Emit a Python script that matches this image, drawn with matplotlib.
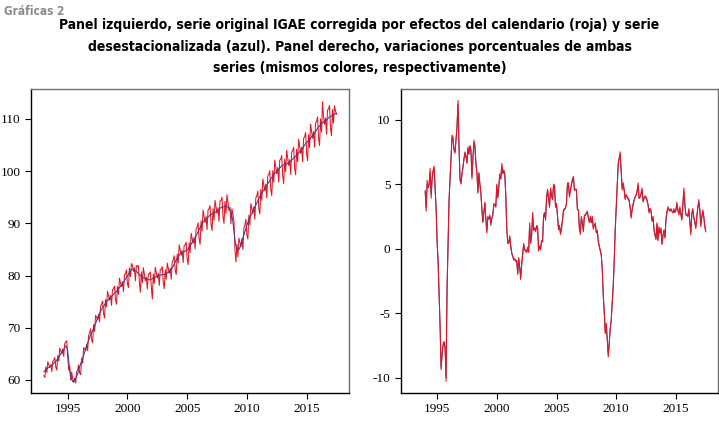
"""IGAE: serie corregida por calendario (roja) vs desestacionalizada (azul), niveles y variaciones."""

import matplotlib

matplotlib.use("Agg")
import matplotlib.pyplot as plt
import numpy as np

RED = "#e8141e"
BLUE = "#3c3c9c"

plt.rcParams["axes.unicode_minus"] = False

# ---- datos mensuales, ene-1993 a jul-2017 (niveles, indice) ----
LEVEL_START = 1993
level_sa = [  # desestacionalizada (azul)
    61.6, 61.8, 62.0, 62.1, 62.3, 62.4, 62.6, 62.7, 62.9, 63.0, 63.2, 63.4,
    63.6, 63.8, 64.1, 64.4, 64.7, 65.0, 65.3, 65.6, 65.9, 66.2, 66.5, 66.4,
    65.5, 63.8, 62.0, 60.8, 60.1, 59.7, 59.8, 60.0, 60.3, 60.7, 61.2, 61.8,
    62.5, 63.1, 63.6, 64.1, 64.7, 65.3, 65.9, 66.5, 67.1, 67.6, 68.1, 68.6,
    69.0, 69.4, 69.9, 70.3, 70.8, 71.3, 71.8, 72.3, 72.7, 73.1, 73.5, 73.8,
    74.1, 74.4, 74.7, 75.0, 75.2, 75.4, 75.6, 75.8, 76.0, 76.2, 76.4, 76.6,
    76.8, 77.0, 77.2, 77.5, 77.7, 77.9, 78.2, 78.4, 78.7, 79.0, 79.3, 79.6,
    79.9, 80.3, 80.6, 80.9, 81.1, 81.2, 81.2, 81.1, 80.9, 80.8, 80.6, 80.4,
    80.2, 80.0, 79.9, 79.7, 79.6, 79.5, 79.4, 79.3, 79.3, 79.2, 79.2, 79.2,
    79.3, 79.4, 79.5, 79.6, 79.7, 79.8, 79.9, 80.0, 80.0, 80.1, 80.1, 80.2,
    80.2, 80.2, 80.3, 80.4, 80.5, 80.6, 80.8, 81.0, 81.2, 81.5, 81.8, 82.2,
    82.6, 83.0, 83.3, 83.6, 83.9, 84.1, 84.3, 84.4, 84.5, 84.6, 84.7, 84.8,
    84.9, 85.1, 85.4, 85.7, 86.0, 86.3, 86.6, 86.9, 87.2, 87.6, 88.0, 88.4,
    88.8, 89.2, 89.6, 89.9, 90.2, 90.4, 90.6, 90.8, 91.0, 91.2, 91.4, 91.6,
    91.7, 91.8, 91.9, 92.0, 92.1, 92.2, 92.3, 92.5, 92.7, 92.9, 93.0, 93.1,
    93.1, 93.2, 93.3, 93.3, 93.2, 93.1, 92.9, 92.6, 92.2, 91.4, 90.2, 88.6,
    86.8, 85.7, 85.1, 84.9, 85.0, 85.4, 86.0, 86.6, 87.2, 87.8, 88.4, 89.0,
    89.6, 90.2, 90.7, 91.1, 91.5, 91.9, 92.3, 92.7, 93.1, 93.5, 93.9, 94.3,
    94.7, 95.1, 95.5, 95.8, 96.1, 96.4, 96.7, 97.0, 97.3, 97.6, 97.9, 98.2,
    98.5, 98.8, 99.1, 99.4, 99.6, 99.8, 100.0, 100.2, 100.4, 100.6, 100.8, 101.0,
    101.1, 101.2, 101.3, 101.4, 101.4, 101.5, 101.6, 101.7, 101.9, 102.1, 102.3, 102.5,
    102.7, 102.9, 103.1, 103.3, 103.5, 103.7, 103.9, 104.1, 104.4, 104.7, 105.0, 105.3,
    105.5, 105.7, 105.9, 106.1, 106.3, 106.6, 106.8, 107.0, 107.3, 107.6, 107.9, 108.2,
    108.5, 108.7, 108.9, 109.1, 109.3, 109.4, 109.5, 109.6, 109.8, 110.0, 110.2, 110.4,
    110.5, 110.6, 110.7, 110.8, 110.9, 111.0, 111.1,
]
level_cal = [  # corregida por calendario (roja)
    60.8, 60.5, 62.5, 61.4, 63.5, 62.9, 62.4, 62.9, 61.6, 63.6, 63.8, 64.3,
    62.5, 61.9, 64.7, 63.6, 66.1, 65.6, 65.0, 65.9, 64.5, 67.0, 67.3, 67.5,
    64.4, 61.9, 62.6, 60.0, 61.5, 60.3, 59.5, 60.3, 59.4, 61.5, 62.0, 62.9,
    61.3, 61.0, 64.2, 63.2, 66.2, 65.9, 65.6, 66.8, 65.6, 68.5, 69.0, 69.8,
    67.7, 67.1, 70.6, 69.3, 72.4, 72.0, 71.5, 72.6, 71.1, 74.1, 74.5, 75.1,
    72.7, 71.9, 75.4, 74.0, 77.0, 76.1, 75.3, 76.2, 74.3, 77.3, 77.5, 78.0,
    75.4, 74.5, 77.9, 76.4, 79.5, 78.6, 77.9, 78.8, 76.9, 80.1, 80.4, 81.1,
    78.4, 77.7, 81.4, 79.8, 82.3, 82.0, 80.8, 81.5, 79.0, 81.9, 81.7, 81.9,
    78.7, 76.8, 80.7, 78.6, 81.5, 80.3, 79.0, 79.7, 77.4, 80.3, 80.3, 80.7,
    77.8, 75.5, 80.3, 78.5, 81.6, 80.6, 79.5, 80.4, 78.1, 81.2, 81.2, 81.7,
    78.7, 77.5, 81.1, 79.3, 82.4, 81.4, 80.4, 81.4, 79.3, 82.7, 83.0, 83.8,
    81.0, 80.2, 84.1, 82.4, 85.9, 84.9, 83.9, 84.8, 82.5, 85.8, 85.9, 86.4,
    83.2, 82.1, 86.3, 84.4, 88.1, 87.2, 86.2, 87.3, 85.1, 88.9, 89.3, 90.1,
    87.0, 86.0, 90.5, 88.5, 92.5, 91.3, 90.2, 91.3, 88.8, 92.6, 92.8, 93.4,
    89.9, 88.6, 92.8, 90.6, 94.4, 93.1, 91.9, 93.0, 90.4, 94.3, 94.4, 95.0,
    91.2, 90.0, 94.2, 91.9, 95.5, 94.0, 92.5, 93.1, 89.9, 92.8, 91.6, 90.5,
    85.0, 82.6, 86.0, 83.6, 87.2, 86.3, 85.5, 87.1, 85.0, 89.1, 89.7, 90.8,
    87.8, 87.0, 91.6, 89.7, 93.8, 92.8, 91.9, 93.2, 90.8, 94.9, 95.3, 96.2,
    92.8, 91.8, 96.5, 94.4, 98.5, 97.4, 96.2, 97.5, 94.9, 99.1, 99.4, 100.1,
    96.5, 95.3, 100.1, 97.9, 102.1, 100.8, 99.5, 100.7, 97.9, 102.1, 102.3, 103.0,
    99.1, 97.6, 102.3, 99.9, 104.0, 102.5, 101.1, 102.2, 99.4, 103.7, 103.9, 104.6,
    100.6, 99.3, 104.2, 101.8, 106.1, 104.8, 103.4, 104.6, 101.8, 106.3, 106.6, 107.4,
    103.4, 102.0, 107.0, 104.5, 109.0, 107.7, 106.3, 107.6, 104.6, 109.2, 109.5, 110.4,
    106.3, 104.9, 110.0, 107.5, 113.3, 110.5, 109.0, 110.2, 107.1, 111.7, 111.9, 112.6,
    108.3, 106.8, 111.8, 109.2, 112.5, 111.6, 110.9,
]

# ---- variaciones porcentuales anuales, ene-1994 a jul-2017 ----
CHANGE_START = 1994
change_cal = [  # roja
    4.5, 2.9, 5.3, 4.7, 5.0, 6.2, 3.9, 5.5, 6.1, 6.4, 4.6, 3.0,
    0.5, -1.1, -3.5, -6.0, -9.4, -8.2, -7.4, -7.2, -7.6, -10.3, -3.0, 0.5,
    3.8, 5.5, 7.0, 8.8, 8.6, 7.6, 7.4, 8.5, 9.5, 11.5, 8.0, 5.3,
    5.0, 5.8, 6.3, 7.0, 7.5, 7.2, 6.6, 7.9, 7.4, 8.0, 7.7, 5.4,
    7.0, 8.4, 8.0, 6.6, 5.8, 4.3, 5.9, 5.0, 4.3, 3.0, 2.0, 2.8,
    3.6, 2.2, 1.2, 2.5, 2.3, 2.5, 2.0, 2.4, 2.6, 3.5, 3.4, 3.2,
    5.0, 3.9, 4.8, 5.8, 5.4, 6.6, 5.9, 6.1, 5.8, 4.2, 1.5, 0.4,
    0.4, 1.0, 0.2, -0.4, -0.6, -0.9, -0.8, -1.0, -0.9, -2.0, -0.7, -1.5,
    -2.4, -1.3, -0.4, 0.4, -0.1, -0.1, -0.3, 0.1, -0.3, 2.0, 0.4, 1.0,
    2.8, 1.4, 1.6, 1.3, 1.8, 1.7, -0.2, 0.2, -0.1, 0.6, 0.5, 2.6,
    2.8, 2.2, 4.0, 4.6, 3.9, 3.2, 4.7, 4.1, 3.8, 5.0, 4.9, 3.2,
    3.5, 2.5, 1.45, 1.8, 1.1, 1.5, 2.2, 3.0, 3.1, 3.1, 3.5, 5.1,
    5.1, 4.0, 4.5, 5.0, 5.4, 5.6, 4.5, 4.6, 4.6, 3.0, 3.0, 1.5,
    1.1, 2.5, 2.0, 1.3, 2.6, 2.6, 2.8, 2.9, 2.4, 2.0, 2.5, 2.0,
    2.5, 1.5, 1.8, 2.0, 1.2, 1.4, 0.5, 0.15, -0.2, -0.5, -1.65, -3.7,
    -5.0, -6.6, -5.8, -7.0, -8.4, -7.4, -6.2, -5.6, -4.2, -3.0, -0.9, 1.5,
    3.2, 5.0, 6.6, 7.0, 7.5, 6.1, 4.55, 5.1, 4.6, 3.8, 4.2, 4.0,
    3.9, 3.8, 3.2, 2.35, 3.0, 3.5, 3.8, 4.0, 4.2, 4.5, 5.1, 3.9,
    4.0, 4.3, 4.7, 3.6, 3.9, 4.1, 4.0, 3.8, 3.4, 2.75, 3.1, 3.0,
    2.1, 2.5, 1.45, 1.0, 0.7, 2.0, 0.6, 1.7, 1.2, 1.6, 0.3, 1.0,
    1.45, 0.8, 2.3, 2.9, 3.25, 3.0, 3.0, 3.1, 2.9, 2.75, 3.1, 2.8,
    3.0, 3.6, 3.0, 2.6, 3.25, 2.6, 2.2, 3.5, 4.7, 3.5, 2.6, 2.6,
    2.5, 3.1, 2.0, 1.05, 2.75, 3.1, 2.4, 2.0, 1.55, 2.5, 3.2, 3.8,
    3.1, 1.7, 2.4, 3.0, 2.5, 1.7, 1.3,
]
change_sa = [  # azul
    4.4, 3.2, 5.0, 4.8, 5.0, 5.9, 4.2, 5.4, 6.0, 6.2, 4.6, 3.2,
    0.6, -1.0, -3.6, -6.1, -9.2, -8.2, -7.5, -7.3, -7.7, -10.0, -3.2, 0.4,
    3.7, 5.4, 7.0, 8.6, 8.5, 7.7, 7.5, 8.4, 9.4, 11.2, 8.0, 5.5,
    5.1, 5.8, 6.4, 6.9, 7.4, 7.1, 6.7, 7.7, 7.3, 7.9, 7.6, 5.6,
    7.0, 8.2, 7.9, 6.6, 5.9, 4.4, 5.8, 5.0, 4.3, 3.1, 2.1, 2.8,
    3.5, 2.3, 1.4, 2.4, 2.3, 2.6, 1.8, 2.3, 2.6, 3.4, 3.4, 3.3,
    4.9, 4.0, 4.8, 5.7, 5.4, 6.4, 5.8, 6.0, 5.7, 4.2, 1.6, 0.5,
    0.5, 0.9, 0.2, -0.3, -0.6, -0.8, -0.8, -1.0, -1.0, -1.9, -0.8, -1.4,
    -2.2, -1.2, -0.4, 0.3, -0.1, -0.2, -0.3, 0.1, -0.2, 1.8, 0.5, 1.0,
    2.6, 1.5, 1.6, 1.4, 1.7, 1.6, 0.0, 0.2, 0.0, 0.6, 0.6, 2.4,
    2.7, 2.3, 3.9, 4.5, 3.9, 3.3, 4.6, 4.1, 3.8, 4.8, 4.8, 3.3,
    3.4, 2.6, 1.6, 1.8, 1.2, 1.6, 2.2, 2.9, 3.0, 3.2, 3.5, 4.9,
    5.0, 4.1, 4.5, 4.9, 5.3, 5.5, 4.6, 4.6, 4.5, 3.1, 3.0, 1.6,
    1.3, 2.4, 2.0, 1.4, 2.5, 2.6, 2.7, 2.8, 2.4, 2.1, 2.4, 2.0,
    2.4, 1.6, 1.8, 1.9, 1.3, 1.4, 0.6, 0.2, -0.1, -0.5, -1.6, -3.6,
    -4.9, -6.5, -5.9, -7.0, -8.2, -7.3, -6.2, -5.5, -4.2, -2.9, -1.0, 1.4,
    3.1, 4.9, 6.5, 7.0, 7.3, 6.0, 4.7, 5.0, 4.5, 3.9, 4.1, 4.0,
    3.8, 3.7, 3.2, 2.5, 3.0, 3.4, 3.7, 4.0, 4.1, 4.4, 4.9, 3.9,
    4.0, 4.2, 4.5, 3.7, 3.9, 4.0, 3.9, 3.7, 3.4, 2.9, 3.1, 2.9,
    2.2, 2.4, 1.5, 1.1, 0.8, 1.9, 0.7, 1.6, 1.2, 1.5, 0.4, 1.0,
    1.4, 0.9, 2.2, 2.8, 3.1, 3.0, 2.9, 3.0, 2.9, 2.8, 3.0, 2.8,
    2.9, 3.4, 3.0, 2.7, 3.1, 2.7, 2.3, 3.4, 4.4, 3.4, 2.7, 2.6,
    2.5, 3.0, 2.1, 1.3, 2.6, 3.0, 2.4, 2.1, 1.7, 2.4, 3.1, 3.6,
    3.0, 1.9, 2.4, 2.9, 2.5, 1.8, 1.4,
]

YEAR_TICKS = [1995, 2000, 2005, 2010, 2015]


def months(start, n):
    return start + np.arange(n) / 12.0


def style_axis(ax):
    for side in ["left", "bottom"]:
        ax.spines[side].set_color("black")
        ax.spines[side].set_linewidth(1.0)
    for side in ["top", "right"]:
        ax.spines[side].set_color("#6e6e6e")
        ax.spines[side].set_linewidth(1.0)
    ax.tick_params(direction="out", length=4, width=0.8, labelsize=9.5,
                   top=False, right=False)
    for lab in ax.get_xticklabels() + ax.get_yticklabels():
        lab.set_family("Liberation Serif")
    ax.set_xticks(YEAR_TICKS)
    ax.set_xlim(1991.95, 2018.55)


fig = plt.figure(figsize=(7.19, 4.22), dpi=100)

fig.text(0.006, 0.987, "Gráficas 2", fontsize=8.5, weight="bold", color="#8a8a8a",
         family="DejaVu Sans", stretch="condensed", ha="left", va="top")
fig.text(0.5, 0.957,
         "Panel izquierdo, serie original IGAE corregida por efectos del calendario (roja) y serie\n"
         "desestacionalizada (azul). Panel derecho, variaciones porcentuales de ambas\n"
         "series (mismos colores, respectivamente)",
         fontsize=10, weight="bold", family="DejaVu Sans", stretch="condensed",
         ha="center", va="top", linespacing=1.68)

# left panel: levels
ax = fig.add_axes([0.0435, 0.0687, 0.4419, 0.7211])
t = months(LEVEL_START, len(level_cal))
ax.plot(t, level_cal, color=RED, lw=0.75)
ax.plot(t, level_sa, color=BLUE, lw=0.75)
ax.set_ylim(57.5, 115.8)
ax.set_yticks([60, 70, 80, 90, 100, 110])
style_axis(ax)

# right panel: percent changes
ax = fig.add_axes([0.5573, 0.0687, 0.4417, 0.7211])
t = months(CHANGE_START, len(change_cal))
ax.plot(t, change_sa, color=BLUE, lw=0.75)
ax.plot(t, change_cal, color=RED, lw=0.75)
ax.set_ylim(-11.2, 12.4)
ax.set_yticks([-10, -5, 0, 5, 10])
style_axis(ax)

fig.savefig("out.png", dpi=100)
plt.close()
